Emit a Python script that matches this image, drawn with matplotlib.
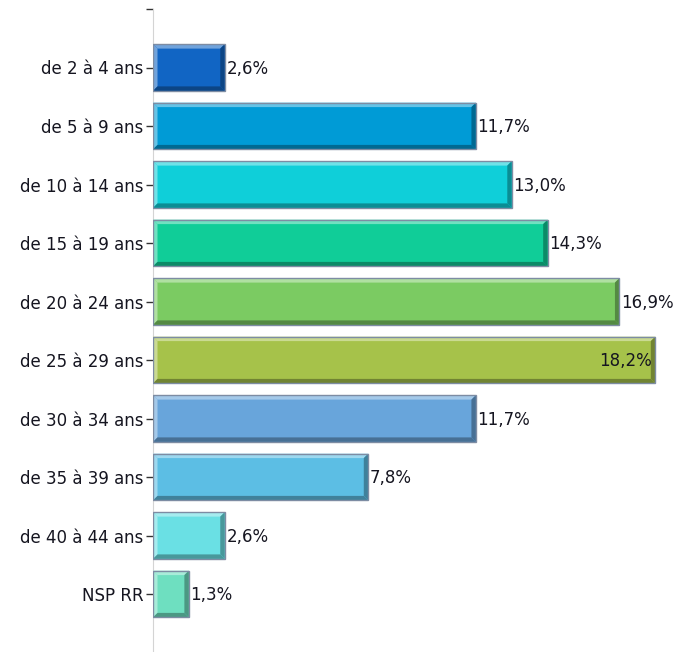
import matplotlib.pyplot as plt
from matplotlib.patches import Polygon
from matplotlib.colors import to_rgb

plt.rcParams["font.family"] = ["DejaVu Sans"]

categories = ["de 2 à 4 ans", "de 5 à 9 ans", "de 10 à 14 ans", "de 15 à 19 ans",
              "de 20 à 24 ans", "de 25 à 29 ans", "de 30 à 34 ans", "de 35 à 39 ans",
              "de 40 à 44 ans", "NSP RR"]
percents = [2.6, 11.7, 13.0, 14.3, 16.9, 18.2, 11.7, 7.8, 2.6, 1.3]
colors = ["#1165c4", "#009bd6", "#0fcfd9", "#10cd98", "#7bcb62",
          "#a6c24a", "#68a5db", "#5cbee4", "#6ae0e4", "#6edfc0"]


def shade(c, f):
    r, g, b = to_rgb(c)
    if f > 0:
        return (r + (1 - r) * f, g + (1 - g) * f, b + (1 - b) * f)
    return (r * (1 + f), g * (1 + f), b * (1 + f))


fig = plt.figure(figsize=(6.75, 6.52), dpi=100)
# axis area: left edge at the y axis line, full height of the figure
ax = fig.add_axes([153 / 675, 0, 522 / 675, 1])

px_x = 27.6   # pixels per percent
px_y = 58.5   # pixels per category slot
ax.set_xlim(0, 522 / px_x)
ax.set_ylim((652 - 9) / px_y, -9 / px_y)

ypos = list(range(1, len(categories) + 1))
h = 0.80
ax.barh(ypos, percents, height=h, color=colors, edgecolor="none", zorder=2)

# bevelled edges: light top/left, dark bottom/right
bx = 4.5 / px_x
by = 4.5 / px_y
for y, v, c in zip(ypos, percents, colors):
    x0, x1 = 0, v
    top, bot = y - h / 2, y + h / 2
    light = shade(c, 0.4)
    dark = shade(c, -0.32)
    polys = [
        ([(x0, top), (x1, top), (x1 - bx, top + by), (x0 + bx, top + by)], light),
        ([(x0, top), (x0, bot), (x0 + bx, bot - by), (x0 + bx, top + by)], light),
        ([(x0, bot), (x1, bot), (x1 - bx, bot - by), (x0 + bx, bot - by)], dark),
        ([(x1, top), (x1, bot), (x1 - bx, bot - by), (x1 - bx, top + by)], dark),
    ]
    for pts, fc in polys:
        ax.add_patch(Polygon(pts, closed=True, facecolor=fc, edgecolor="none", zorder=3))
    ax.add_patch(Polygon([(x0, top), (x1, top), (x1, bot), (x0, bot)], closed=True,
                         facecolor="none", edgecolor="#7d8ca3", linewidth=1.0, zorder=4))

    label = f"{v:.1f}%".replace(".", ",")
    if v > 18:
        ax.text(v - 0.12, y + 0.02, label, ha="right", va="center", fontsize=12,
                color="#151520", zorder=5)
    else:
        ax.text(v + 0.06, y + 0.02, label, ha="left", va="center", fontsize=12,
                color="#151520", zorder=5)

ax.set_yticks([0] + ypos)
ax.set_yticklabels([""] + categories, fontsize=12, color="#151520")
ax.tick_params(axis="y", length=5, width=1, color="#333333", pad=2)
ax.set_xticks([])
for s in ["top", "right", "bottom"]:
    ax.spines[s].set_visible(False)
ax.spines["left"].set_color("#d4d4d4")
ax.spines["left"].set_bounds(0, (652 - 9) / px_y)

fig.savefig("out.png", dpi=100)
